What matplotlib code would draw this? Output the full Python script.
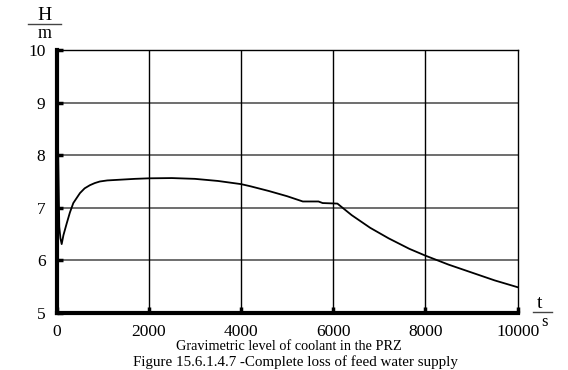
import matplotlib.pyplot as plt
import numpy as np

# level of coolant in the PRZ
t = [0, 20, 40, 60, 85, 112, 150, 220, 290, 364, 440, 509, 610, 725, 830, 940, 1100, 1300,
     1700, 2000, 2500, 3000, 3500, 4000, 4200, 4600, 5000, 5340, 5680, 5770, 6090, 6400,
     6800, 7200, 7650, 8000, 8500, 9000, 9500, 10000]
h = [9.58, 8.9, 7.8, 6.64, 6.42, 6.31, 6.48, 6.70, 6.91, 7.09, 7.19, 7.28, 7.37, 7.43,
     7.47, 7.50, 7.52, 7.53, 7.55, 7.56, 7.565, 7.55, 7.51, 7.45, 7.41, 7.32, 7.22, 7.12,
     7.12, 7.09, 7.08, 6.86, 6.62, 6.42, 6.22, 6.09, 5.92, 5.77, 5.62, 5.49]

xticks = [0, 2000, 4000, 6000, 8000, 10000]
yticks = [5, 6, 7, 8, 9, 10]

plt.rcParams['font.family'] = ['Liberation Serif', 'DejaVu Serif']

fig = plt.figure(figsize=(5.68, 3.70), dpi=100)
ax = fig.add_axes([0.0995, 0.154, 0.812, 0.711])

for y in yticks[1:-1]:
    ax.axhline(y, color='#555555', lw=1.2, zorder=1)
for x in xticks[1:-1]:
    ax.axvline(x, color='black', lw=1.0, zorder=1)

ax.plot(t, h, color='black', lw=1.3, zorder=3)

ax.set_xlim(0, 10000)
ax.set_ylim(5, 10)
ax.set_xticks(xticks)
ax.set_yticks(yticks)
ax.tick_params(direction='in', length=4, width=2.5, labelsize=12.5, pad=8)
ax.spines['left'].set_linewidth(3)
ax.spines['bottom'].set_linewidth(3)
ax.spines['top'].set_linewidth(1)
ax.spines['right'].set_linewidth(1)

# axis labels as fractions, like the original
fig.text(45 / 568, 1 - 16 / 370, 'H', ha='center', va='center', fontsize=14)
fig.add_artist(plt.Line2D([28 / 568, 61 / 568], [1 - 24 / 370, 1 - 24 / 370], color='#444444', lw=1))
fig.text(45 / 568, 1 - 33 / 370, 'm', ha='center', va='center', fontsize=13)

fig.text(540 / 568, 1 - 304 / 370, 't', ha='center', va='center', fontsize=14)
fig.add_artist(plt.Line2D([533 / 568, 552 / 568], [1 - 312 / 370, 1 - 312 / 370], color='#444444', lw=1))
fig.text(544 / 568, 1 - 322 / 370, 's', ha='center', va='center', fontsize=12)

fig.text(289 / 568, 1 - 346 / 370, 'Gravimetric level of coolant in the PRZ', ha='center', va='center', fontsize=10.3)
fig.text(295 / 568, 1 - 362 / 370, 'Figure 15.6.1.4.7 -Complete loss of feed water supply', ha='center', va='center', fontsize=10.8)

fig.savefig('out.png', dpi=100)
